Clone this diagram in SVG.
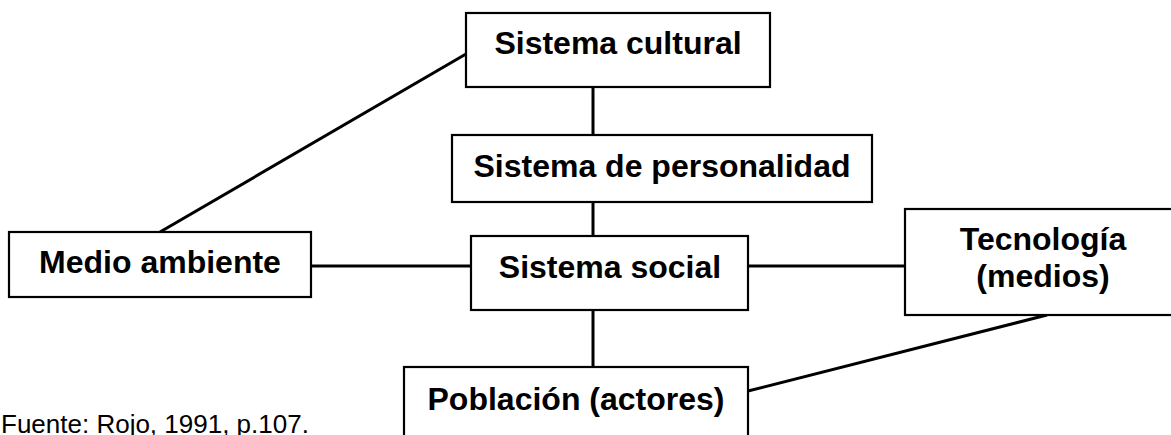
<svg xmlns="http://www.w3.org/2000/svg" width="1171" height="435" viewBox="0 0 1171 435">
<style>
.box{fill:#fff;stroke:#000;stroke-width:2.2}
.lbl{font-family:"Liberation Sans",Arial,sans-serif;font-weight:bold;font-size:32px;fill:#000;text-anchor:middle}
.src{font-family:"Liberation Sans",Arial,sans-serif;font-size:26px;fill:#000}
.con line{stroke:#000;stroke-width:3}
</style>
<rect width="1171" height="435" fill="#fff"/>
<g id="connectors" class="con">
<line x1="466" y1="54" x2="160" y2="232"/>
<line x1="593" y1="87" x2="593" y2="135"/>
<line x1="593" y1="202" x2="593" y2="236"/>
<line x1="593" y1="310" x2="593" y2="367"/>
<line x1="311" y1="266" x2="471" y2="266"/>
<line x1="748" y1="266" x2="905" y2="266"/>
<line x1="1047" y1="315" x2="748" y2="391"/>
</g>
<g id="sistema-cultural"><rect class="box" x="466" y="13" width="304" height="74"/><text class="lbl" x="618" y="54">Sistema cultural</text></g>
<g id="sistema-personalidad"><rect class="box" x="452" y="135" width="420" height="67"/><text class="lbl" x="662" y="177">Sistema de personalidad</text></g>
<g id="medio-ambiente"><rect class="box" x="9" y="232" width="302" height="65"/><text class="lbl" x="160" y="273">Medio ambiente</text></g>
<g id="sistema-social"><rect class="box" x="471" y="236" width="277" height="74"/><text class="lbl" x="610" y="278">Sistema social</text></g>
<g id="tecnologia"><rect class="box" x="905" y="209" width="275" height="106"/><text class="lbl" x="1043" y="250">Tecnología</text><text class="lbl" x="1043" y="287">(medios)</text></g>
<g id="poblacion"><rect class="box" x="404" y="367" width="344" height="80"/><text class="lbl" x="576" y="410">Población (actores)</text></g>
<text class="src" x="1" y="433">Fuente: Rojo, 1991, p.107.</text>
</svg>
